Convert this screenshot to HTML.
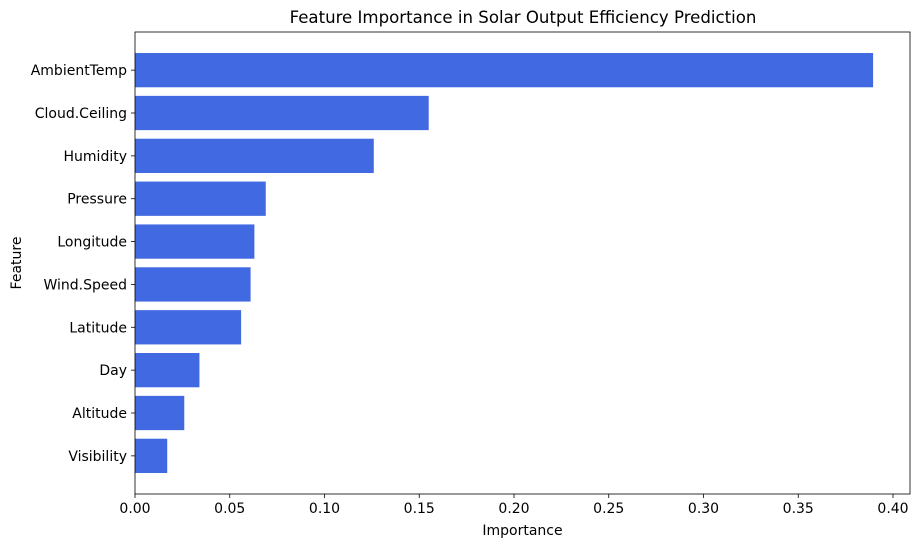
<!DOCTYPE html>
<html><head><meta charset="utf-8"><style>
body{margin:0;background:#fff;font-family:"DejaVu Sans","Liberation Sans",sans-serif;}
</style></head><body>
<svg id="chart" width="919" height="547" xmlns="http://www.w3.org/2000/svg" font-family="DejaVu Sans, Liberation Sans, sans-serif"></svg>
<script>
const categories=["AmbientTemp","Cloud.Ceiling","Humidity","Pressure","Longitude","Wind.Speed","Latitude","Day","Altitude","Visibility"];
const importances=[0.3895,0.155,0.126,0.069,0.063,0.061,0.056,0.034,0.026,0.017];
const xTicks=[0,0.05,0.1,0.15,0.2,0.25,0.3,0.35,0.4];
const xTickLabels=["0.00","0.05","0.10","0.15","0.20","0.25","0.30","0.35","0.40"];

const svg=document.getElementById('chart');
const NS="http://www.w3.org/2000/svg";
const L=135,R=910,T=32,B=494;
const n=categories.length;
const xMax=Math.max(...importances)*1.05;
const x=v=>L+v/xMax*(R-L);
const yMin=-0.89,yMax=n-1+0.89;
const y=i=>{const pos=n-1-i;return B-(pos-yMin)/(yMax-yMin)*(B-T);};
const unit=(B-T)/(yMax-yMin);
function mk(tag,attrs,txt){const e=document.createElementNS(NS,tag);for(const k in attrs)e.setAttribute(k,attrs[k]);if(txt!==undefined)e.textContent=txt;svg.appendChild(e);return e;}

categories.forEach((c,i)=>{
  const b=mk('rect',{x:L,y:y(i)-0.4*unit,width:x(importances[i])-L,height:0.8*unit,fill:'#4169e1'});
  
  
  const tk=mk('line',{x1:L-4,x2:L,y1:y(i),y2:y(i),stroke:'#000','stroke-width':0.8});
  
  
  const t=mk('text',{x:L-8,y:y(i)+5,'text-anchor':'end','font-size':14,fill:'#000'},c);
  
  
});
xTicks.forEach((v,i)=>{
  const tk=mk('line',{x1:x(v),x2:x(v),y1:B,y2:B+4,stroke:'#000','stroke-width':0.8});
  
  
  const t=mk('text',{x:x(v),y:B+19,'text-anchor':'middle','font-size':14,fill:'#000'},xTickLabels[i]);
  
  
});
const fr=mk('rect',{x:L,y:T,width:R-L,height:B-T,fill:'none',stroke:'#000','stroke-width':0.8});


const ti=mk('text',{x:(L+R)/2+0.5,y:23,'text-anchor':'middle','font-size':16.6,fill:'#000'},'Feature Importance in Solar Output Efficiency Prediction');


const xt=mk('text',{x:(L+R)/2,y:535,'text-anchor':'middle','font-size':14,fill:'#000'},'Importance');


const yt=mk('text',{x:21,y:(T+B)/2,'text-anchor':'middle','font-size':14,fill:'#000',transform:`rotate(-90 21 ${(T+B)/2})`},'Feature');


</script>
</body></html>
